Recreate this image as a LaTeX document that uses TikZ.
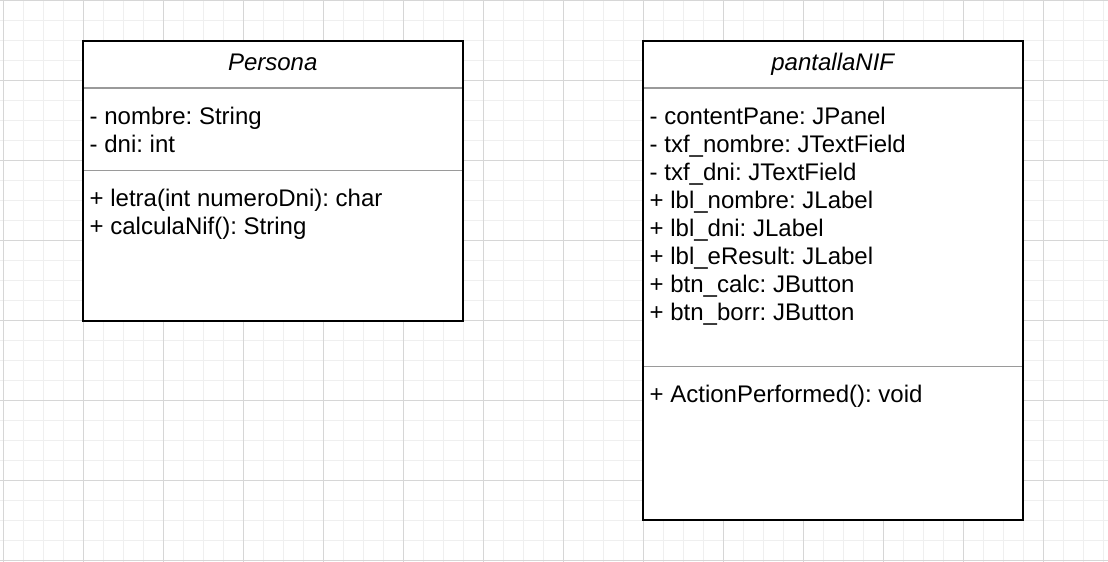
\documentclass[tikz,border=0pt]{standalone}
\usepackage{fontspec}
\setmainfont{Liberation Sans}
\frenchspacing
\definecolor{gridminor}{HTML}{EFEFEF}
\definecolor{gridmajor}{HTML}{D6D6D6}
\definecolor{divider}{HTML}{9A9A9A}
\tikzset{
  classbox/.style={draw=black, line width=2pt, fill=white},
  sepline/.style={draw=divider, line width=1.5pt},
  member/.style={anchor=base west, inner sep=0pt, font=\fontsize{24}{28}\selectfont},
  classtitle/.style={anchor=base, inner sep=0pt, font=\fontsize{24}{28}\selectfont\itshape},
}
\begin{document}
\begin{tikzpicture}[x=1pt,y=-1pt]
\useasboundingbox (0,0) rectangle (1108,562);
\fill[white] (0,0) rectangle (1108,562);
% grid
\foreach \k in {0,...,55} \draw[gridminor, line width=1pt] ({3+20*\k},0) -- ({3+20*\k},562);
\foreach \k in {0,...,28} \draw[gridminor, line width=1pt] (0,{20*\k}) -- (1108,{20*\k});
\foreach \k in {0,...,13} \draw[gridmajor, line width=1pt] ({3+80*\k},0) -- ({3+80*\k},562);
\foreach \k in {0,...,7} \draw[gridmajor, line width=1pt] (0,{80*\k}) -- (1108,{80*\k});

% Persona
\coordinate (pTL) at (83,41);
\coordinate (pBR) at (462.5,320.5);
\draw[classbox] (pTL) rectangle (pBR);
\draw[sepline] (84,88) -- (461.5,88);
\draw[sepline] (84,170.5) -- (461.5,170.5);
\node[classtitle] (ptitle) at (272.75,70) {Persona};
\node[member] (pa1) at (89.5,124) {- nombre: String};
\node[member] (pa2) at (89.5,152) {- dni: int};
\node[member] (pm1) at (89.5,206.5) {+ letra(int numeroDni): char};
\node[member] (pm2) at (89.5,234.5) {+ calculaNif(): String};

% pantallaNIF
\coordinate (nTL) at (643,41);
\coordinate (nBR) at (1022.5,520);
\draw[classbox] (nTL) rectangle (nBR);
\draw[sepline] (644,88) -- (1021.5,88);
\draw[sepline] (644,366.5) -- (1021.5,366.5);
\node[classtitle] (ntitle) at (832.75,70) {pantallaNIF};
\foreach \t [count=\i] in {{- contentPane: JPanel},{- txf\_nombre: JTextField},{- txf\_dni: JTextField},{+ lbl\_nombre: JLabel},{+ lbl\_dni: JLabel},{+ lbl\_eResult: JLabel},{+ btn\_calc: JButton},{+ btn\_borr: JButton}}
  \node[member] (na\i) at (649.5,{124+28*(\i-1)}) {\t};
\node[member] (nm1) at (649.5,402.5) {+ ActionPerformed(): void};
\end{tikzpicture}
\end{document}
